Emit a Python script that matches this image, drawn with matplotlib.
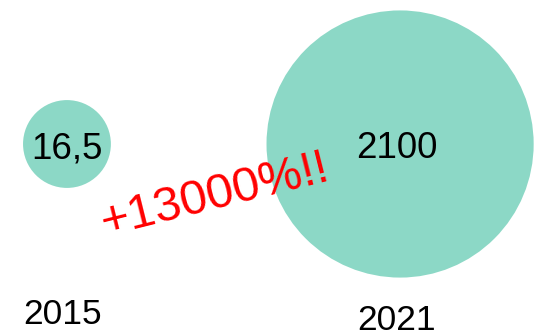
import matplotlib
matplotlib.use("Agg")
import matplotlib.pyplot as plt

plt.rcParams['font.family'] = ['Liberation Sans', 'DejaVu Sans']

anos = ["2015", "2021"]
valores = [16.5, 2100]
rotulos = ["16,5", "2100"]
texto_aumento = "+13000%!!"

cor_bolha = "#8cd8c6"
tamanhos = [4000, 37000]  # area dos marcadores (pt^2)

fig = plt.figure(figsize=(5.37, 3.31), dpi=100)
ax = fig.add_axes([0, 0, 1, 1])

xs = list(range(len(anos)))
ys = [0 for _ in anos]
ax.scatter(xs, ys, s=tamanhos, color=cor_bolha, linewidths=0)

for x, rot in zip(xs, rotulos):
    ax.annotate(rot, (x, 0), xytext=(-3 if x else 0, -5), textcoords="offset pixels",
                ha="center", va="center", fontsize=26.5, color="black")

# anos embaixo
desloc = [-170, -176]
for x, ano, d in zip(xs, anos, desloc):
    ax.annotate(ano, (x, 0), xytext=(-4, d), textcoords="offset pixels",
                ha="center", va="center", fontsize=25.5, color="black")

ax.annotate(texto_aumento, (0, 0), xytext=(148, -52), textcoords="offset pixels",
            ha="center", va="center", fontsize=35, color="red", rotation=14)

ax.set_xlim(-0.201, 1.411)
ax.set_ylim(-1.87, 1.44)
ax.axis("off")

fig.savefig("out.png", dpi=100)
